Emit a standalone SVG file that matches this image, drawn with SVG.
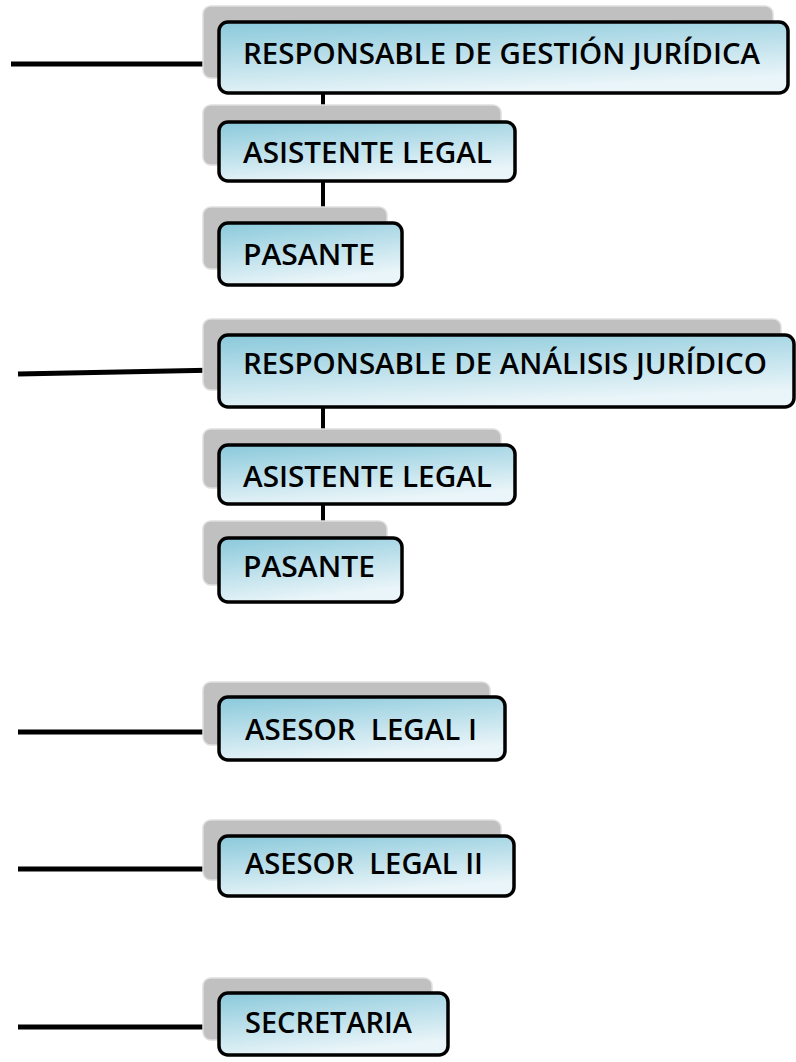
<svg xmlns="http://www.w3.org/2000/svg" width="796" height="1062" viewBox="0 0 796 1062">
<defs>
<linearGradient id="g" x1="0" y1="0" x2="0.35" y2="1">
<stop offset="0" stop-color="#8ac9db"/>
<stop offset="1" stop-color="#eaf5f9"/>
</linearGradient>
<style>
.sh{fill:#c0c0c0;stroke:#dedede;stroke-width:1.5}
.bx{fill:url(#g);stroke:#000;stroke-width:3.5}
.t{font-family:"Open Sans","Noto Sans",sans-serif;font-size:29.5px;font-weight:600;fill:#000;white-space:pre}
.c{stroke:#000;stroke-width:4;fill:none}
.l{stroke:#000;stroke-width:5;fill:none}
</style>
</defs>
<rect width="796" height="1062" fill="#fff"/>
<g id="connectors">
<line class="l" x1="11" y1="64" x2="220" y2="64"/>
<line class="l" x1="18" y1="374" x2="220" y2="370"/>
<line class="l" x1="18" y1="732" x2="220" y2="732"/>
<line class="l" x1="18" y1="869" x2="220" y2="869"/>
<line class="l" x1="18" y1="1027" x2="220" y2="1027"/>
<line class="c" x1="323" y1="93" x2="323" y2="122"/>
<line class="c" x1="323" y1="181" x2="323" y2="223"/>
<line class="c" x1="323" y1="407" x2="323" y2="445"/>
<line class="c" x1="323" y1="504" x2="323" y2="538"/>
</g>
<g id="n1">
<rect class="sh" x="203" y="6" width="570" height="72" rx="8"/>
<rect class="bx" x="219" y="22" width="569" height="71" rx="9"/>
<text class="t" x="243" y="64" textLength="517" lengthAdjust="spacingAndGlyphs">RESPONSABLE DE GESTIÓN JURÍDICA</text>
</g>
<g id="n2">
<rect class="sh" x="203" y="105" width="298" height="60" rx="8"/>
<rect class="bx" x="219" y="122" width="296" height="59" rx="9"/>
<text class="t" x="243" y="163" textLength="249" lengthAdjust="spacingAndGlyphs">ASISTENTE LEGAL</text>
</g>
<g id="n3">
<rect class="sh" x="203" y="207" width="184" height="62" rx="8"/>
<rect class="bx" x="219" y="223" width="183" height="62" rx="9"/>
<text class="t" x="243" y="265" textLength="132" lengthAdjust="spacingAndGlyphs">PASANTE</text>
</g>
<g id="n4">
<rect class="sh" x="203" y="319" width="578" height="71" rx="8"/>
<rect class="bx" x="219" y="335" width="575" height="72" rx="9"/>
<text class="t" x="243" y="374" textLength="524" lengthAdjust="spacingAndGlyphs">RESPONSABLE DE ANÁLISIS JURÍDICO</text>
</g>
<g id="n5">
<rect class="sh" x="203" y="429" width="298" height="59" rx="8"/>
<rect class="bx" x="219" y="445" width="296" height="59" rx="9"/>
<text class="t" x="243" y="487" textLength="249" lengthAdjust="spacingAndGlyphs">ASISTENTE LEGAL</text>
</g>
<g id="n6">
<rect class="sh" x="203" y="521" width="184" height="64" rx="8"/>
<rect class="bx" x="219" y="538" width="183" height="64" rx="9"/>
<text class="t" x="243" y="577" textLength="132" lengthAdjust="spacingAndGlyphs">PASANTE</text>
</g>
<g id="n7">
<rect class="sh" x="203" y="682" width="287" height="63" rx="8"/>
<rect class="bx" x="219" y="697" width="286" height="63" rx="9"/>
<text class="t" x="245" y="740" textLength="232" lengthAdjust="spacingAndGlyphs">ASESOR  LEGAL I</text>
</g>
<g id="n8">
<rect class="sh" x="203" y="820" width="298" height="60" rx="8"/>
<rect class="bx" x="219" y="836" width="295" height="60" rx="9"/>
<text class="t" x="245" y="874" textLength="238" lengthAdjust="spacingAndGlyphs">ASESOR  LEGAL II</text>
</g>
<g id="n9">
<rect class="sh" x="203" y="978" width="229" height="62" rx="8"/>
<rect class="bx" x="219" y="993" width="229" height="62" rx="9"/>
<text class="t" x="245" y="1033" textLength="167" lengthAdjust="spacingAndGlyphs">SECRETARIA</text>
</g>
</svg>
